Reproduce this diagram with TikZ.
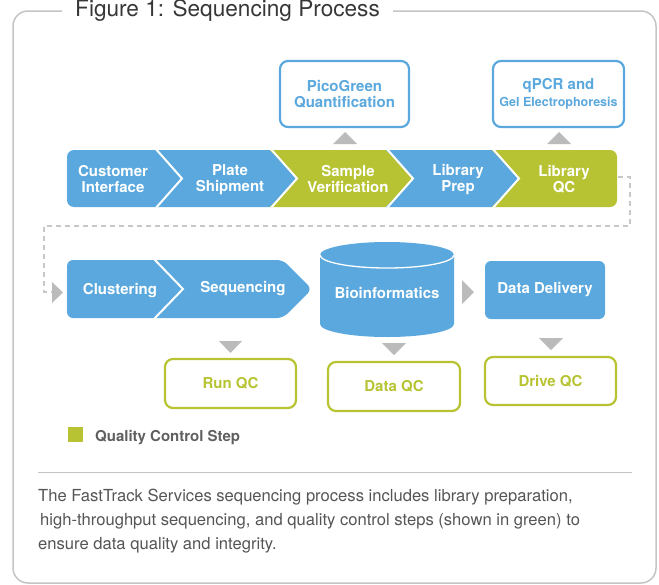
\documentclass[tikz,border=0pt]{standalone}
\usepackage{fontspec}
\setmainfont{TeX Gyre Heros}
\definecolor{blu}{RGB}{90,168,221}
\definecolor{grn}{RGB}{183,195,51}
\definecolor{trigray}{RGB}{187,187,187}
\definecolor{dsh}{RGB}{200,200,200}
\definecolor{frm}{RGB}{196,196,196}
\definecolor{ttl}{RGB}{55,55,55}
\definecolor{leg}{RGB}{95,95,95}
\definecolor{capc}{RGB}{85,85,85}
\begin{document}
\begin{tikzpicture}[x=1pt,y=-1pt,
  lbl/.style={text=white, font=\bfseries\fontsize{15}{16}\selectfont, align=center, inner sep=0pt},
  bluebox/.style={draw=blu, line width=2.2pt, rounded corners=8pt, fill=white, text=blu, font=\bfseries\fontsize{15}{16}\selectfont, align=center, minimum height=66pt, inner sep=0pt},
  qcbox/.style={draw=grn, line width=2.2pt, rounded corners=8pt, text=grn, font=\bfseries\fontsize{15}{16}\selectfont, inner sep=0pt},
  trishape/.style={fill=trigray},
  sepline/.style={draw=white, line width=2pt},
  dashline/.style={draw=dsh, line width=2.2pt, dash pattern=on 5pt off 4pt},
  capline/.style={anchor=base west, inner sep=0pt, text=capc, font=\fontsize{16.6}{18}\selectfont},
]
\useasboundingbox (0,0) rectangle (659,584);
% outer frame
\draw[frm, line width=1.5pt, rounded corners=15pt] (62,11) -- (13,11) -- (13,583) -- (656,583) -- (656,11) -- (393,11);
\node[anchor=base west, inner sep=0pt, text=ttl, font=\fontsize{22.6}{24}\selectfont] (title) at (75,16.5) {Figure 1: Sequencing Process};

% top QC boxes
\node[bluebox, minimum width=129pt] (pico) at (344.5,94) {PicoGreen\\Quantification};
\node[bluebox, minimum width=131pt] (qpcr) at (558.5,94) {qPCR and\\[1pt]{\fontsize{12.5}{14}\selectfont Gel Electrophoresis}};
\fill[trishape] (333,144) -- (357,144) -- (345,132) -- cycle;
\fill[trishape] (547,144) -- (571,144) -- (559,132) -- cycle;

% row 1 chevrons
\begin{scope}
\clip[rounded corners=7pt] (67,150) rectangle (617,207);
\fill[blu] (60,150) -- (155,150) -- (182,178.5) -- (155,207) -- (60,207) -- cycle;
\fill[blu] (155,150) -- (270,150) -- (297,178.5) -- (270,207) -- (155,207) -- (182,178.5) -- cycle;
\fill[grn] (270,150) -- (386,150) -- (413,178.5) -- (386,207) -- (270,207) -- (297,178.5) -- cycle;
\fill[blu] (386,150) -- (492,150) -- (519,178.5) -- (492,207) -- (386,207) -- (413,178.5) -- cycle;
\fill[grn] (492,150) -- (625,150) -- (625,207) -- (492,207) -- (519,178.5) -- cycle;
\draw[sepline] (155,148) -- (182,178.5) -- (155,209);
\draw[sepline] (270,148) -- (297,178.5) -- (270,209);
\draw[sepline] (386,148) -- (413,178.5) -- (386,209);
\draw[sepline] (492,148) -- (519,178.5) -- (492,209);
\end{scope}
\node[lbl] (cust) at (113,179.5) {Customer\\Interface};
\node[lbl] (plate) at (230,179.5) {Plate\\Shipment};
\node[lbl] (sample) at (348,179.5) {Sample\\Verification};
\node[lbl] (libprep) at (458,179.5) {Library\\Prep};
\node[lbl] (libqc) at (564,179.5) {Library\\QC};

% dashed connector
\coordinate (qcR) at (618,177);
\coordinate (clusL) at (52,292);
\draw[dashline] (qcR) -- (630,177) -- (630,226) -- (44,226) -- (44,292) -- (clusL);
\fill[trishape] (52,282) -- (63,292.5) -- (52,303) -- cycle;

% row 2
\fill[blu, rounded corners=6pt] (67,260) -- (283,260) -- (312,289) -- (283,318) -- (67,318) -- cycle;
\draw[sepline] (153,258) -- (183,289) -- (153,320);
\node[lbl] (clus) at (120,291) {Clustering};
\node[lbl] (seq) at (243,289) {Sequencing};

% cylinder
\fill[blu] (320,255) -- (320,324) arc[start angle=180, end angle=0, x radius=67, y radius=13] -- (454,255) arc[start angle=0, end angle=-180, x radius=67, y radius=13] -- cycle;
\draw[white, line width=1.3pt] (320,255) arc[start angle=180, end angle=0, x radius=67, y radius=13];
\node[lbl] (bio) at (387,293) {Bioinformatics};
\fill[trishape] (462,280) -- (474,292) -- (462,304) -- cycle;

% data delivery
\node[fill=blu, rounded corners=6pt, minimum width=120pt, minimum height=58pt, inner sep=0pt] (deliv) at (545,290) {};
\node[lbl] at (deliv) {Data Delivery};

% bottom QC boxes
\fill[trishape] (219,341) -- (242,341) -- (230.5,353) -- cycle;
\fill[trishape] (382,343) -- (406,343) -- (394,355) -- cycle;
\fill[trishape] (539,338) -- (563,338) -- (551,350) -- cycle;
\node[qcbox, minimum width=131pt, minimum height=49pt] (runqc) at (230.5,383.5) {Run QC};
\node[qcbox, minimum width=132pt, minimum height=49pt] (dataqc) at (394,386.5) {Data QC};
\node[qcbox, minimum width=131pt, minimum height=48pt] (driveqc) at (550.5,381) {Drive QC};

% legend
\fill[grn] (68,427) rectangle (83,442);
\node[anchor=base west, inner sep=0pt, text=leg, font=\bfseries\fontsize{15}{16}\selectfont] (legend) at (95,441.5) {Quality Control Step};

% separator and caption
\draw[frm, line width=1pt] (38,472) -- (632,472);
\node[capline] (cap1) at (38,501) {The FastTrack Services sequencing process includes library preparation,};
\node[capline] (cap2) at (40,525) {high-throughput sequencing, and quality control steps (shown in green) to};
\node[capline] (cap3) at (38,549) {ensure data quality and integrity.};
\end{tikzpicture}
\end{document}
